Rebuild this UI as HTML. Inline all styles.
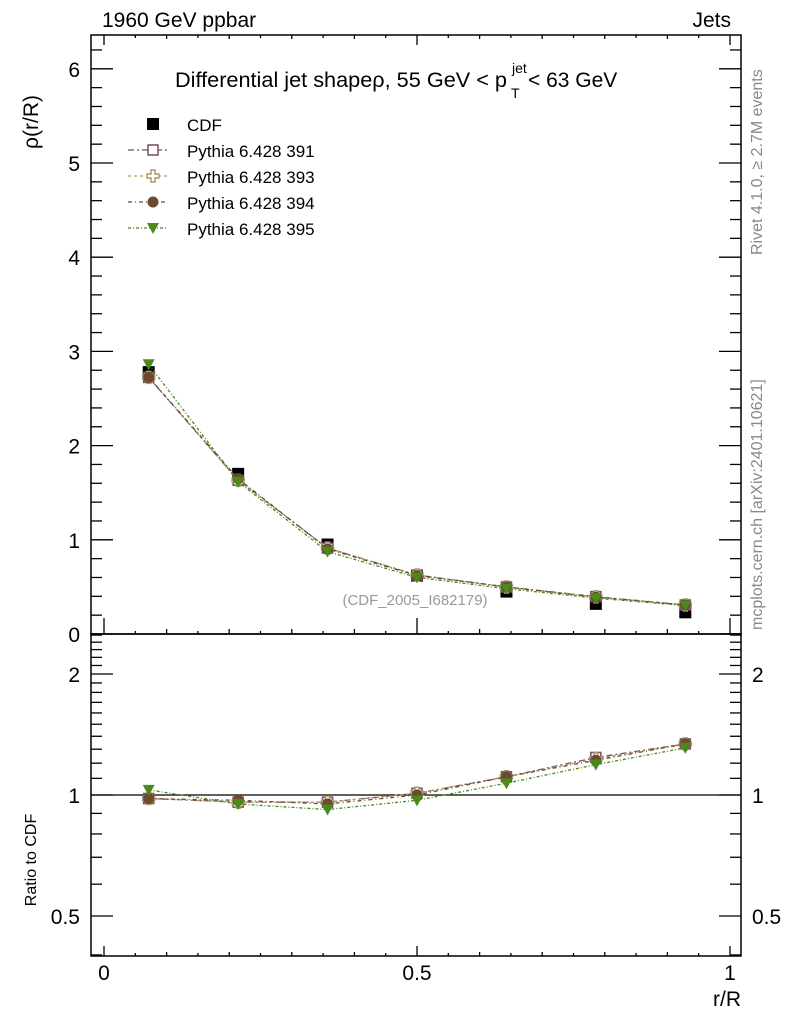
<!DOCTYPE html>
<html><head><meta charset="utf-8"><style>body{margin:0;background:#fff}svg{display:block;font-family:"Liberation Sans",sans-serif}</style></head>
<body>
<svg id="c" width="786" height="1024" xmlns="http://www.w3.org/2000/svg">
<g id="g"></g>
</svg>
<script>
const xCenters=[0.0714,0.2143,0.3571,0.5,0.6429,0.7857,0.9286];
const cdfValues=[2.78,1.70,0.95,0.62,0.45,0.32,0.23];
const ratio391=[0.98,0.96,0.96,1.01,1.11,1.24,1.34];
const ratio393=[0.98,0.96,0.96,1.01,1.11,1.23,1.34];
const ratio394=[0.98,0.97,0.95,1.00,1.11,1.22,1.34];
const ratio395=[1.03,0.95,0.92,0.97,1.07,1.19,1.31];
const yTicksTop=[0,1,2,3,4,5,6];
const yTicksRatio=[0.5,1,2];
const xTicks=[0,0.5,1];
const series=[
 {name:'Pythia 6.428 391',r:ratio391,col:'#7b4a62',m:'osq',dash:'6,3,2,3'},
 {name:'Pythia 6.428 393',r:ratio393,col:'#a89a6a',m:'ocross',dash:'3,3'},
 {name:'Pythia 6.428 394',r:ratio394,col:'#6b4a2e',m:'circ',dash:'4,3,1,3'},
 {name:'Pythia 6.428 395',r:ratio395,col:'#4a8a1a',m:'tri',dash:'3,2,1,2'}];
const NS='http://www.w3.org/2000/svg',G=document.getElementById('g');
const L=91,R=741,T=35,M=634,B=956;
const X=v=>104+626*v, Y=v=>634-94.2*v, YR=v=>795-121*Math.log2(v);
function el(t,a,txt){const e=document.createElementNS(NS,t);for(const k in a)e.setAttribute(k,a[k]);if(txt!==undefined)e.textContent=txt;G.appendChild(e);return e;}
function line(x1,y1,x2,y2,extra){return el('line',Object.assign({x1,y1,x2,y2,stroke:'#000','stroke-width':1.3},extra||{}));}
let f=el('rect',{x:L,y:T,width:R-L,height:M-T,fill:'none',stroke:'#000','stroke-width':1.5});


f=el('rect',{x:L,y:M,width:R-L,height:B-M,fill:'none',stroke:'#000','stroke-width':1.5});


for(let v=0;v<=6.3;v+=0.2){const y=Y(v);if(y<T)break;const maj=Math.abs(v-Math.round(v))<1e-6;const l=maj?22:11;line(L,y,L+l,y);line(R,y,R-l,y);}
yTicksTop.forEach(v=>{const t=el('text',{x:80,y:Y(v)+8,'font-size':21,'text-anchor':'end'},String(v));

});
const rt=[0.4,0.5,0.6,0.7,0.8,0.9,1,1.1,1.2,1.3,1.4,1.5,1.6,1.7,1.8,1.9,2,2.1,2.2,2.3,2.4,2.5];
rt.forEach(v=>{const y=YR(v);if(y<M||y>B)return;const maj=yTicksRatio.some(t=>Math.abs(t-v)<1e-6);const l=maj?22:11;line(L,y,L+l,y);line(R,y,R-l,y);});
yTicksRatio.forEach(v=>{let t=el('text',{x:80,y:YR(v)+8,'font-size':21,'text-anchor':'end'},String(v));


t=el('text',{x:752,y:YR(v)+8,'font-size':21},String(v));

});
for(let i=-1;i<=21;i++){const v=i*0.05;const x=X(v);if(x<L||x>R)continue;const maj=i%10==0;
 const lm=maj?16:(i%2==0?5:3);line(x,M,x,M-lm);
 const lb=maj?10:(i%2==0?4:3);line(x,B,x,B-lb);line(x,T,x,T+lb);}
xTicks.forEach(v=>{const t=el('text',{x:X(v),y:980,'font-size':21,'text-anchor':'middle'},String(v));

});
line(L,YR(1),R,YR(1),{'stroke-width':1.2});
const labels=[['1960 GeV ppbar',102,27,21,'start','#000'],['Jets',731,27,21,'end','#000'],['r/R',741,1006,21,'end','#000'],
['(CDF_2005_I682179)',415,605,15,'middle','#999']];
labels.forEach(a=>{const t=el('text',{x:a[1],y:a[2],'font-size':a[3],'text-anchor':a[4],fill:a[5]},a[0]);

});
let tt=el('text',{x:175,y:87,'font-size':21,textLength:332,lengthAdjust:'spacingAndGlyphs'},'Differential jet shapeρ, 55 GeV < p');

el('text',{x:512,y:73,'font-size':14},'jet');el('text',{x:511,y:98,'font-size':14},'T');el('text',{x:528,y:87,'font-size':21},'< 63 GeV');
let t=el('text',{x:0,y:0,'font-size':21,transform:'translate(38,95) rotate(-90)','text-anchor':'end'},'ρ(r/R)');

t=el('text',{x:0,y:0,'font-size':16,transform:'translate(36,860) rotate(-90)','text-anchor':'middle'},'Ratio to CDF');

t=el('text',{x:0,y:0,'font-size':16,fill:'#888',transform:'translate(762,255) rotate(-90)'},'Rivet 4.1.0, ≥ 2.7M events');

t=el('text',{x:0,y:0,'font-size':16,fill:'#888',transform:'translate(762,630) rotate(-90)'},'mcplots.cern.ch [arXiv:2401.10621]');

function marker(type,x,y,col){
 let e;
 if(type=='sq')e=el('rect',{x:x-6,y:y-6,width:12,height:12,fill:'#000'});
 else if(type=='osq')e=el('rect',{x:x-5,y:y-5,width:10,height:10,fill:'#fff',stroke:col,'stroke-width':1.5});
 else if(type=='ocross')e=el('path',{d:`M${x-2},${y-6}h4v4h4v4h-4v4h-4v-4h-4v-4h4z`,fill:'#fff',stroke:col,'stroke-width':1.5});
 else if(type=='circ')e=el('circle',{cx:x,cy:y,r:5.5,fill:col});
 else e=el('path',{d:`M${x-6},${y-5}h12l-6,11z`,fill:col});
 return e;}
xCenters.forEach((xv,i)=>{const m=marker('sq',X(xv),Y(cdfValues[i]));
});
series.forEach((s,k)=>{
 const pts=xCenters.map((xv,i)=>[X(xv),Y(cdfValues[i]*s.r[i])]);
 const rp=xCenters.map((xv,i)=>[X(xv),YR(s.r[i])]);
 let p=el('polyline',{points:pts.join(' '),fill:'none',stroke:s.col,'stroke-width':1.3,'stroke-dasharray':s.dash});
 
 p=el('polyline',{points:rp.join(' '),fill:'none',stroke:s.col,'stroke-width':1.3,'stroke-dasharray':s.dash});
 
 pts.concat(rp).forEach(q=>{const m=marker(s.m,q[0],q[1],s.col);});
 const ly=150+k*26;
 line(128,ly,168,ly,{stroke:s.col,'stroke-dasharray':s.dash});
 const lm=marker(s.m,153,ly,s.col);
 const lt=el('text',{x:187,y:ly+7,'font-size':17},s.name);
});
const cm=marker('sq',153,124);
const ct=el('text',{x:187,y:131,'font-size':17},'CDF');
</script>
</body></html>
